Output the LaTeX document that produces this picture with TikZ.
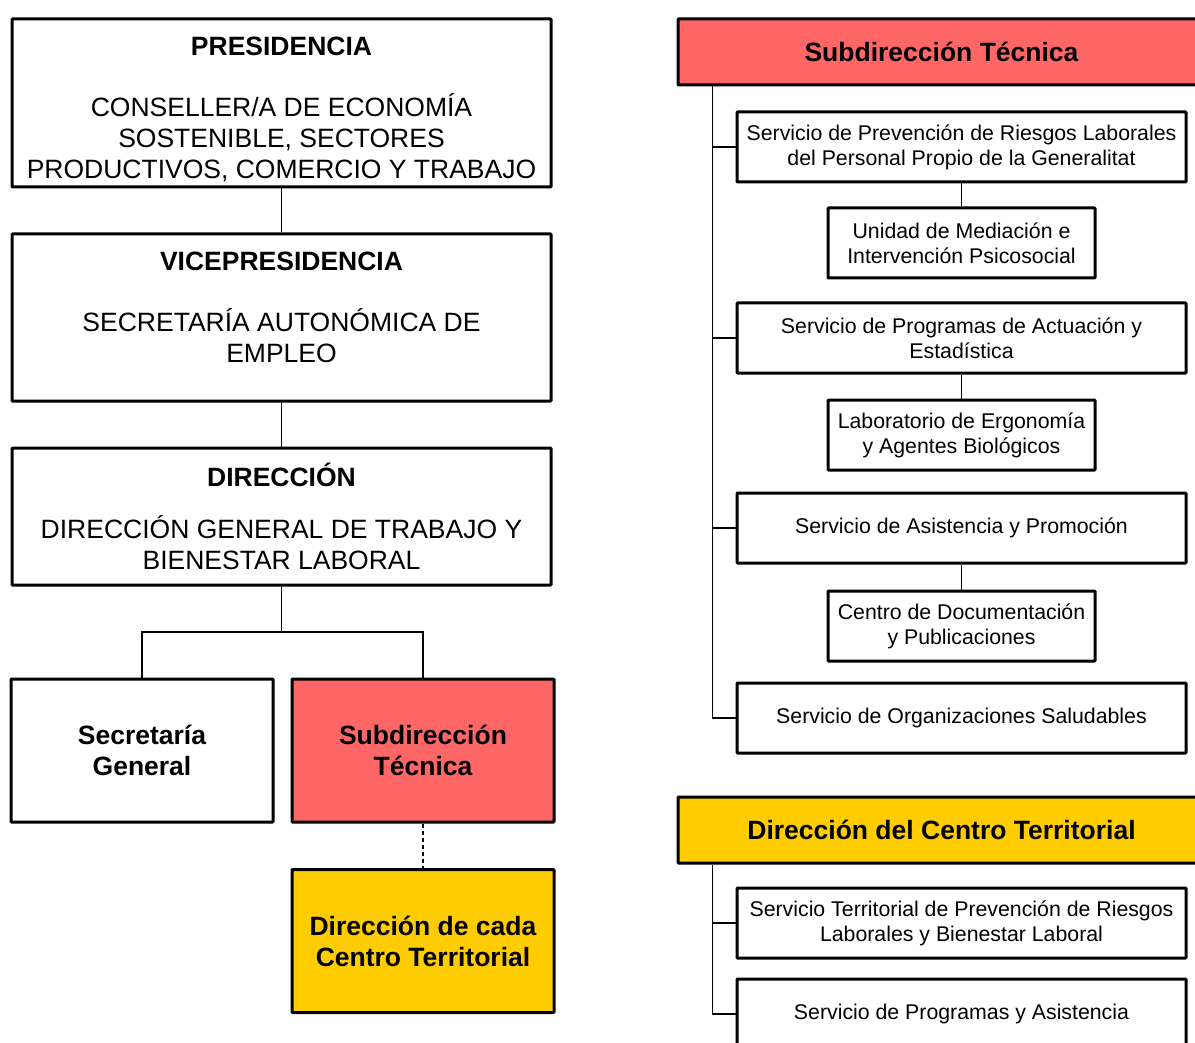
\documentclass[tikz,border=0pt]{standalone}
\usepackage{fontspec}
\setmainfont{Liberation Sans}
\usepackage{xcolor}
\usetikzlibrary{positioning,calc}

\definecolor{subred}{HTML}{FF6666}
\definecolor{ctyellow}{HTML}{FFCC00}

\tikzset{
    box/.style={draw, line width=3pt, rounded corners=0.8pt, inner sep=0pt, align=center},
    bigbox/.style={box, minimum width=539pt},
    unitbox/.style={box, minimum width=174pt, minimum height=143pt,
        font=\fontsize{26.5}{31}\selectfont\bfseries},
    headbox/.style={box, minimum width=527pt, minimum height=66pt,
        font=\fontsize{26.5}{31}\selectfont\bfseries},
    servbox/.style={box, minimum width=449pt, minimum height=70pt,
        font=\fontsize{21.3}{25}\selectfont},
    smallbox/.style={box, minimum width=267pt, minimum height=70pt,
        font=\fontsize{21.3}{25}\selectfont},
    bigtitle/.style={inner sep=0pt, font=\fontsize{26.5}{31}\selectfont\bfseries},
    bigtext/.style={inner sep=0pt, align=center, font=\fontsize{26.5}{31}\selectfont},
    conn/.style={line width=1.8pt},
}

\begin{document}
\begin{tikzpicture}[x=1pt, y=-1pt]
    \useasboundingbox (0,0) rectangle (1195,1043);

    % Left column
    \node[bigbox, minimum height=168pt] (pres) at (281.5,103) {};
    \node[bigtitle] (presT) at (281.5,46) {PRESIDENCIA};
    \node[bigtext] (presX) at (281.5,138) {CONSELLER/A DE ECONOMÍA\\SOSTENIBLE, SECTORES\\PRODUCTIVOS, COMERCIO Y TRABAJO};

    \node[bigbox, minimum height=167pt] (vice) at (281.5,317.5) {};
    \node[bigtitle] (viceT) at (281.5,261) {VICEPRESIDENCIA};
    \node[bigtext] (viceX) at (281.5,336) {SECRETARÍA AUTONÓMICA DE\\EMPLEO};

    \node[bigbox, minimum height=137pt] (dir) at (281.5,516.5) {};
    \node[bigtitle] (dirT) at (281.5,475) {DIRECCIÓN};
    \node[bigtext] (dirX) at (281.5,542.5) {DIRECCIÓN GENERAL DE TRABAJO Y\\BIENESTAR LABORAL};

    \node[unitbox, minimum width=262pt] (secgen) at (142,750.5) {Secretaría\\General};
    \node[unitbox, minimum width=262pt, fill=subred] (subtec) at (423,750.5) {Subdirección\\Técnica};
    \node[unitbox, minimum width=262pt, fill=ctyellow] (dircada) at (423,941) {Dirección de cada\\Centro Territorial};

    \draw[conn] (pres) -- (vice);
    \draw[conn] (vice) -- (dir);
    \coordinate (split) at (281.5,632);
    \draw[conn] (dir) -- (split);
    \draw[conn] (split) -| (secgen.north);
    \draw[conn] (split) -| (subtec.north);
    \draw[conn, dashed, dash pattern=on 4pt off 3pt] (subtec) -- (dircada);

    % Right column: Subdireccion Tecnica
    \node[headbox, fill=subred] (subR) at (941.5,52) {Subdirección Técnica};
    \node[servbox] (s1) at (961.5,147) {Servicio de Prevención de Riesgos Laborales\\del Personal Propio de la Generalitat};
    \node[smallbox] (u1) at (961.5,243) {Unidad de Mediación e\\Intervención Psicosocial};
    \node[servbox] (s2) at (961.5,338) {Servicio de Programas de Actuación y\\Estadística};
    \node[smallbox] (u2) at (961.5,435) {Laboratorio de Ergonomía\\y Agentes Biológicos};
    \node[servbox] (s3) at (961.5,528) {Servicio de Asistencia y Promoción};
    \node[smallbox] (u3) at (961.5,626) {Centro de Documentación\\y Publicaciones};
    \node[servbox] (s4) at (961.5,718) {Servicio de Organizaciones Saludables};

    \coordinate (trunkA) at ($(subR.south west)+(36,0)$);
    \foreach \s in {s1,s2,s3,s4} {
        \draw[conn] (trunkA) |- (\s.west);
    }
    \foreach \s/\u in {s1/u1,s2/u2,s3/u3} {
        \draw[conn] (\s) -- (\u);
    }

    % Right column: Direccion del Centro Territorial
    \node[headbox, fill=ctyellow] (ctR) at (941.5,830) {Dirección del Centro Territorial};
    \node[servbox] (t1) at (961.5,923) {Servicio Territorial de Prevención de Riesgos\\Laborales y Bienestar Laboral};
    \node[servbox] (t2) at (961.5,1014) {Servicio de Programas y Asistencia};

    \coordinate (trunkB) at ($(ctR.south west)+(36,0)$);
    \foreach \s in {t1,t2} {
        \draw[conn] (trunkB) |- (\s.west);
    }

\end{tikzpicture}
\end{document}
